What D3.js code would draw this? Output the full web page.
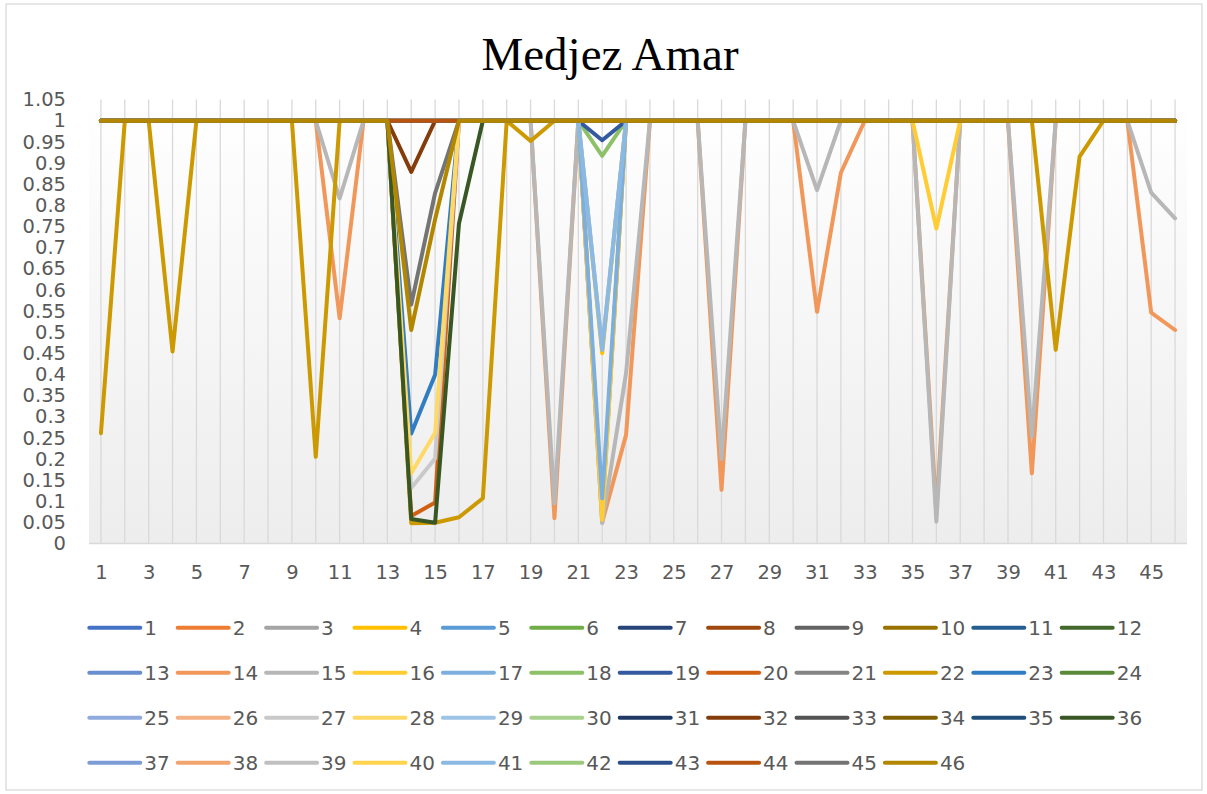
<!DOCTYPE html>
<html>
<head>
<meta charset="utf-8">
<script src="https://cdn.jsdelivr.net/npm/d3@7"></script>
<style>
  html, body { margin: 0; padding: 0; background: #ffffff; }
  svg { display: block; }
</style>
</head>
<body>
<svg id="chart" width="1207" height="794"></svg>
<script>
// ---------------- DATA ----------------
const chartTitle = "Medjez Amar";
const categories = [1,2,3,4,5,6,7,8,9,10,11,12,13,14,15,16,17,18,19,20,21,22,23,24,25,26,27,28,29,30,31,32,33,34,35,36,37,38,39,40,41,42,43,44,45,46];
const xTickValues = [1,3,5,7,9,11,13,15,17,19,21,23,25,27,29,31,33,35,37,39,41,43,45];
const xTickLabels = ["1","3","5","7","9","11","13","15","17","19","21","23","25","27","29","31","33","35","37","39","41","43","45"];
const yTickValues = [0,0.05,0.1,0.15,0.2,0.25,0.3,0.35,0.4,0.45,0.5,0.55,0.6,0.65,0.7,0.75,0.8,0.85,0.9,0.95,1,1.05];
const yTickLabels = ["0","0.05","0.1","0.15","0.2","0.25","0.3","0.35","0.4","0.45","0.5","0.55","0.6","0.65","0.7","0.75","0.8","0.85","0.9","0.95","1","1.05"];
const seriesNames = ["1","2","3","4","5","6","7","8","9","10","11","12","13","14","15","16","17","18","19","20","21","22","23","24","25","26","27","28","29","30","31","32","33","34","35","36","37","38","39","40","41","42","43","44","45","46"];

//            1 .. 10                   | 11 .. 20                            | 21 .. 30                                  | 31 .. 40                                   | 41 .. 46
const s1  = [1,1,1,1,1,1,1,1,1,1,        1,1,1,1,1,1,1,1,1,1,                  1,1,1,1,1,1,1,1,1,1,                        1,1,1,1,1,1,1,1,1,1,                         1,1,1,1,1,1];
const s2  = [1,1,1,1,1,1,1,1,1,1,        1,1,1,1,1,1,1,1,1,1,                  1,1,1,1,1,1,1,1,1,1,                        1,1,1,1,1,1,1,1,1,1,                         1,1,1,1,1,1];
const s3  = [1,1,1,1,1,1,1,1,1,1,        1,1,1,1,1,1,1,1,1,1,                  1,1,1,1,1,1,1,1,1,1,                        1,1,1,1,1,1,1,1,1,1,                         1,1,1,1,1,1];
const s4  = [1,1,1,1,1,1,1,1,1,1,        1,1,1,1,1,1,1,1,1,1,                  1,0.45,1,1,1,1,1,1,1,1,                     1,1,1,1,1,1,1,1,1,1,                         1,1,1,1,1,1];
const s5  = [1,1,1,1,1,1,1,1,1,1,        1,1,1,1,1,1,1,1,1,1,                  1,1,1,1,1,1,1,1,1,1,                        1,1,1,1,1,1,1,1,1,1,                         1,1,1,1,1,1];
const s6  = [1,1,1,1,1,1,1,1,1,1,        1,1,1,1,1,1,1,1,1,1,                  1,1,1,1,1,1,1,1,1,1,                        1,1,1,1,1,1,1,1,1,1,                         1,1,1,1,1,1];
const s7  = [1,1,1,1,1,1,1,1,1,1,        1,1,1,1,1,1,1,1,1,1,                  1,1,1,1,1,1,1,1,1,1,                        1,1,1,1,1,1,1,1,1,1,                         1,1,1,1,1,1];
const s8  = [1,1,1,1,1,1,1,1,1,1,        1,1,1,1,1,1,1,1,1,1,                  1,1,1,1,1,1,1,1,1,1,                        1,1,1,1,1,1,1,1,1,1,                         1,1,1,1,1,1];
const s9  = [1,1,1,1,1,1,1,1,1,1,        1,1,1,1,1,1,1,1,1,1,                  1,1,1,1,1,1,1,1,1,1,                        1,1,1,1,1,1,1,1,1,1,                         1,1,1,1,1,1];
const s10 = [1,1,1,1,1,1,1,1,1,1,        1,1,1,1,1,1,1,1,1,1,                  1,0.07,1,1,1,1,1,1,1,1,                     1,1,1,1,1,1,1,1,1,1,                         1,1,1,1,1,1];
const s11 = [1,1,1,1,1,1,1,1,1,1,        1,1,1,1,1,1,1,1,1,1,                  1,1,1,1,1,1,1,1,1,1,                        1,1,1,1,1,1,1,1,1,1,                         1,1,1,1,1,1];
const s12 = [1,1,1,1,1,1,1,1,1,1,        1,1,1,1,1,1,1,1,1,1,                  1,1,1,1,1,1,1,1,1,1,                        1,1,1,1,1,1,1,1,1,1,                         1,1,1,1,1,1];
const s13 = [1,1,1,1,1,1,1,1,1,1,        1,1,1,1,1,1,1,1,1,1,                  1,1,1,1,1,1,1,1,1,1,                        1,1,1,1,1,1,1,1,1,1,                         1,1,1,1,1,1];
const s14 = [1,1,1,1,1,1,1,1,1,1,        0.533,1,1,1,1,1,1,1,1,0.06,           1,0.05,0.257,1,1,1,0.127,1,1,1,             0.548,0.877,1,1,1,0.075,1,1,1,0.166,         1,1,1,1,0.546,0.505];
const s15 = [1,1,1,1,1,1,1,1,1,1,        0.816,1,1,1,1,1,1,1,1,0.095,          1,0.048,0.403,1,1,1,0.2,1,1,1,              0.836,1,1,1,1,0.052,1,1,1,0.253,             1,1,1,1,0.83,0.769];
const s16 = [1,1,1,1,1,1,1,1,1,1,        1,1,1,1,1,1,1,1,1,1,                  1,0.056,1,1,1,1,1,1,1,1,                    1,1,1,1,1,0.745,1,1,1,1,                     1,1,1,1,1,1];
const s17 = [1,1,1,1,1,1,1,1,1,1,        1,1,1,1,1,1,1,1,1,1,                  1,0.107,1,1,1,1,1,1,1,1,                    1,1,1,1,1,1,1,1,1,1,                         1,1,1,1,1,1];
const s18 = [1,1,1,1,1,1,1,1,1,1,        1,1,1,1,1,1,1,1,1,1,                  1,0.917,1,1,1,1,1,1,1,1,                    1,1,1,1,1,1,1,1,1,1,                         1,1,1,1,1,1];
const s19 = [1,1,1,1,1,1,1,1,1,1,        1,1,1,1,1,1,1,1,1,1,                  1,0.954,1,1,1,1,1,1,1,1,                    1,1,1,1,1,1,1,1,1,1,                         1,1,1,1,1,1];
const s20 = [1,1,1,1,1,1,1,1,1,1,        1,1,1,0.065,0.097,1,1,1,1,1,          1,1,1,1,1,1,1,1,1,1,                        1,1,1,1,1,1,1,1,1,1,                         1,1,1,1,1,1];
const s21 = [1,1,1,1,1,1,1,1,1,1,        1,1,1,1,1,1,1,1,1,1,                  1,1,1,1,1,1,1,1,1,1,                        1,1,1,1,1,1,1,1,1,1,                         1,1,1,1,1,1];
const s22 = [0.261,1,1,0.454,1,1,1,1,1,0.205, 1,1,1,0.048,0.049,0.062,0.107,1,0.952,1, 1,1,1,1,1,1,1,1,1,1,                    1,1,1,1,1,1,1,1,1,1,                         0.458,0.915,1,1,1,1];
const s23 = [1,1,1,1,1,1,1,1,1,1,        1,1,1,0.26,0.399,1,1,1,1,1,           1,1,1,1,1,1,1,1,1,1,                        1,1,1,1,1,1,1,1,1,1,                         1,1,1,1,1,1];
const s24 = [1,1,1,1,1,1,1,1,1,1,        1,1,1,1,1,1,1,1,1,1,                  1,1,1,1,1,1,1,1,1,1,                        1,1,1,1,1,1,1,1,1,1,                         1,1,1,1,1,1];
const s25 = [1,1,1,1,1,1,1,1,1,1,        1,1,1,1,1,1,1,1,1,1,                  1,1,1,1,1,1,1,1,1,1,                        1,1,1,1,1,1,1,1,1,1,                         1,1,1,1,1,1];
const s26 = [1,1,1,1,1,1,1,1,1,1,        1,1,1,1,1,1,1,1,1,1,                  1,1,1,1,1,1,1,1,1,1,                        1,1,1,1,1,1,1,1,1,1,                         1,1,1,1,1,1];
const s27 = [1,1,1,1,1,1,1,1,1,1,        1,1,1,0.131,0.201,1,1,1,1,1,          1,1,1,1,1,1,1,1,1,1,                        1,1,1,1,1,1,1,1,1,1,                         1,1,1,1,1,1];
const s28 = [1,1,1,1,1,1,1,1,1,1,        1,1,1,0.166,0.262,1,1,1,1,1,          1,1,1,1,1,1,1,1,1,1,                        1,1,1,1,1,1,1,1,1,1,                         1,1,1,1,1,1];
const s29 = [1,1,1,1,1,1,1,1,1,1,        1,1,1,1,1,1,1,1,1,1,                  1,0.462,1,1,1,1,1,1,1,1,                    1,1,1,1,1,1,1,1,1,1,                         1,1,1,1,1,1];
const s30 = [1,1,1,1,1,1,1,1,1,1,        1,1,1,1,1,1,1,1,1,1,                  1,1,1,1,1,1,1,1,1,1,                        1,1,1,1,1,1,1,1,1,1,                         1,1,1,1,1,1];
const s31 = [1,1,1,1,1,1,1,1,1,1,        1,1,1,1,1,1,1,1,1,1,                  1,1,1,1,1,1,1,1,1,1,                        1,1,1,1,1,1,1,1,1,1,                         1,1,1,1,1,1];
const s32 = [1,1,1,1,1,1,1,1,1,1,        1,1,1,0.879,1,1,1,1,1,1,              1,1,1,1,1,1,1,1,1,1,                        1,1,1,1,1,1,1,1,1,1,                         1,1,1,1,1,1];
const s33 = [1,1,1,1,1,1,1,1,1,1,        1,1,1,1,1,1,1,1,1,1,                  1,1,1,1,1,1,1,1,1,1,                        1,1,1,1,1,1,1,1,1,1,                         1,1,1,1,1,1];
const s34 = [1,1,1,1,1,1,1,1,1,1,        1,1,1,1,1,1,1,1,1,1,                  1,1,1,1,1,1,1,1,1,1,                        1,1,1,1,1,1,1,1,1,1,                         1,1,1,1,1,1];
const s35 = [1,1,1,1,1,1,1,1,1,1,        1,1,1,1,1,1,1,1,1,1,                  1,1,1,1,1,1,1,1,1,1,                        1,1,1,1,1,1,1,1,1,1,                         1,1,1,1,1,1];
const s36 = [1,1,1,1,1,1,1,1,1,1,        1,1,1,0.058,0.049,0.757,1,1,1,1,      1,1,1,1,1,1,1,1,1,1,                        1,1,1,1,1,1,1,1,1,1,                         1,1,1,1,1,1];
const s37 = [1,1,1,1,1,1,1,1,1,1,        1,1,1,1,1,1,1,1,1,1,                  1,1,1,1,1,1,1,1,1,1,                        1,1,1,1,1,1,1,1,1,1,                         1,1,1,1,1,1];
const s38 = [1,1,1,1,1,1,1,1,1,1,        1,1,1,1,1,1,1,1,1,1,                  1,1,1,1,1,1,1,1,1,1,                        1,1,1,1,1,1,1,1,1,1,                         1,1,1,1,1,1];
const s39 = [1,1,1,1,1,1,1,1,1,1,        1,1,1,1,1,1,1,1,1,1,                  1,1,1,1,1,1,1,1,1,1,                        1,1,1,1,1,1,1,1,1,1,                         1,1,1,1,1,1];
const s40 = [1,1,1,1,1,1,1,1,1,1,        1,1,1,1,1,1,1,1,1,1,                  1,1,1,1,1,1,1,1,1,1,                        1,1,1,1,1,1,1,1,1,1,                         1,1,1,1,1,1];
const s41 = [1,1,1,1,1,1,1,1,1,1,        1,1,1,1,1,1,1,1,1,1,                  1,0.4575,1,1,1,1,1,1,1,1,                   1,1,1,1,1,1,1,1,1,1,                         1,1,1,1,1,1];
const s42 = [1,1,1,1,1,1,1,1,1,1,        1,1,1,1,1,1,1,1,1,1,                  1,1,1,1,1,1,1,1,1,1,                        1,1,1,1,1,1,1,1,1,1,                         1,1,1,1,1,1];
const s43 = [1,1,1,1,1,1,1,1,1,1,        1,1,1,1,1,1,1,1,1,1,                  1,1,1,1,1,1,1,1,1,1,                        1,1,1,1,1,1,1,1,1,1,                         1,1,1,1,1,1];
const s44 = [1,1,1,1,1,1,1,1,1,1,        1,1,1,1,1,1,1,1,1,1,                  1,1,1,1,1,1,1,1,1,1,                        1,1,1,1,1,1,1,1,1,1,                         1,1,1,1,1,1];
const s45 = [1,1,1,1,1,1,1,1,1,1,        1,1,1,0.565,0.829,1,1,1,1,1,          1,1,1,1,1,1,1,1,1,1,                        1,1,1,1,1,1,1,1,1,1,                         1,1,1,1,1,1];
const s46 = [1,1,1,1,1,1,1,1,1,1,        1,1,1,0.505,0.767,1,1,1,1,1,          1,1,1,1,1,1,1,1,1,1,                        1,1,1,1,1,1,1,1,1,1,                         1,1,1,1,1,1];

const seriesValues = [s1,s2,s3,s4,s5,s6,s7,s8,s9,s10,s11,s12,s13,s14,s15,s16,s17,s18,s19,s20,s21,s22,s23,s24,s25,s26,s27,s28,s29,s30,s31,s32,s33,s34,s35,s36,s37,s38,s39,s40,s41,s42,s43,s44,s45,s46];

// ---------------- STYLE ----------------
const accents = ["#4472C4","#ED7D31","#A5A5A5","#FFC000","#5B9BD5","#70AD47"];
const lumMods = [[1,0],[0.6,0],[0.8,0.2],[0.8,0],[0.6,0.4],[0.5,0],[0.7,0.3],[0.7,0]];
function seriesColor(i) {
  const c = d3.hsl(accents[i % 6]);
  const m = lumMods[Math.floor(i / 6)];
  c.l = c.l * m[0] + m[1];
  return c.formatHex();
}

const plot = { left: 89, right: 1187, top: 99.6, bottom: 543.5 };
const axisFont = "'DejaVu Sans', sans-serif";
const textColor = "#595959";

const svg = d3.select("#chart");

// chart border
svg.append("rect")
  .attr("x", 6).attr("y", 4).attr("width", 1196).attr("height", 786)
  .attr("fill", "#ffffff").attr("stroke", "#d9d9d9").attr("stroke-width", 1.3);

// gradient for plot area
const defs = svg.append("defs");
const grad = defs.append("linearGradient").attr("id", "plotGrad")
  .attr("x1", 0).attr("y1", 0).attr("x2", 0).attr("y2", 1);
grad.append("stop").attr("offset", "0%").attr("stop-color", "#ffffff");
grad.append("stop").attr("offset", "100%").attr("stop-color", "#ededed");

const x = d3.scalePoint().domain(categories).range([plot.left, plot.right]).padding(0.5);
const y = d3.scaleLinear().domain([0, 1.05]).range([plot.bottom, plot.top]);

svg.append("rect")
  .attr("x", plot.left).attr("y", plot.top)
  .attr("width", plot.right - plot.left).attr("height", plot.bottom - plot.top)
  .attr("fill", "url(#plotGrad)");

// vertical gridlines
svg.append("g").selectAll("line").data(categories).join("line")
  .attr("x1", d => x(d)).attr("x2", d => x(d))
  .attr("y1", y(1.05)).attr("y2", y(0))
  .attr("stroke", "#d9d9d9").attr("stroke-width", 1.3);

// baseline
svg.append("line")
  .attr("x1", plot.left).attr("x2", plot.right)
  .attr("y1", y(0)).attr("y2", y(0))
  .attr("stroke", "#d9d9d9").attr("stroke-width", 1.6);

// title
svg.append("text")
  .attr("x", 610).attr("y", 70)
  .attr("text-anchor", "middle")
  .style("font-family", "'Liberation Serif', 'Times New Roman', serif")
  .style("font-size", "47px")
  .attr("fill", "#000000")
  .text(chartTitle);

// y axis
const yAxis = d3.axisLeft(y).tickValues(yTickValues)
  .tickFormat((d, i) => yTickLabels[i]).tickSize(0).tickPadding(23);
const gy = svg.append("g").attr("transform", `translate(${plot.left},0)`).call(yAxis);
gy.select(".domain").remove();
gy.selectAll("text").style("font-family", axisFont).style("font-size", "19.5px").attr("fill", textColor);

// x axis
const xAxis = d3.axisBottom(x).tickValues(xTickValues)
  .tickFormat((d, i) => xTickLabels[i]).tickSize(0).tickPadding(22);
const gx = svg.append("g").attr("transform", `translate(0,${y(0)})`).call(xAxis);
gx.select(".domain").remove();
gx.selectAll("text").style("font-family", axisFont).style("font-size", "19.5px").attr("fill", textColor);

// series lines
const line = d3.line().x(d => x(d.c)).y(d => y(d.v));
const seriesData = seriesValues.map((vals, i) => ({
  name: seriesNames[i], color: seriesColor(i),
  points: vals.map((v, j) => ({ c: categories[j], v: v }))
}));
svg.append("g").selectAll("path").data(seriesData).join("path")
  .attr("d", d => line(d.points))
  .attr("fill", "none")
  .attr("stroke", d => d.color)
  .attr("stroke-width", 4)
  .attr("stroke-linejoin", "round")
  .attr("stroke-linecap", "round");

// legend
const legend = { x0: 89.3, dx: 88.4, y0: 627.7, dy: 45, perRow: 12, lineLen: 51, textGap: 55 };
const lg = svg.append("g").selectAll("g").data(seriesData).join("g")
  .attr("transform", (d, i) => `translate(${legend.x0 + (i % legend.perRow) * legend.dx},${legend.y0 + Math.floor(i / legend.perRow) * legend.dy})`);
lg.append("line")
  .attr("x1", 0).attr("x2", legend.lineLen).attr("y1", 0).attr("y2", 0)
  .attr("stroke", d => d.color).attr("stroke-width", 4).attr("stroke-linecap", "round");
lg.append("text")
  .attr("x", legend.textGap).attr("y", 7.3)
  .style("font-family", axisFont).style("font-size", "20px")
  .attr("fill", textColor)
  .text(d => d.name);
</script>
</body>
</html>
